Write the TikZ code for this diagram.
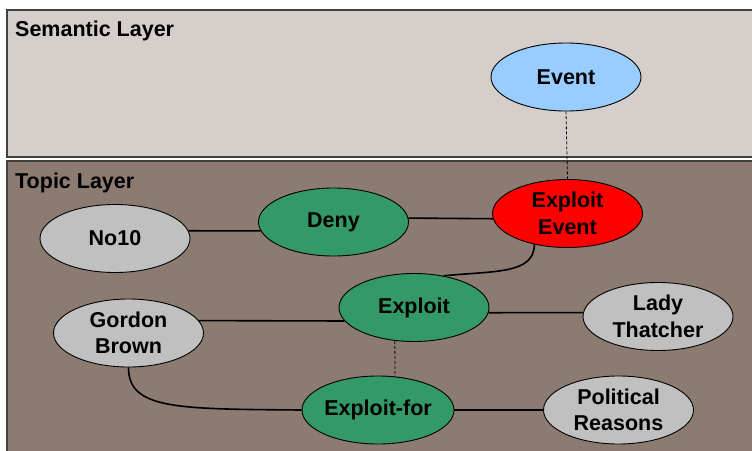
\documentclass[tikz,border=0pt]{standalone}
\usepackage{fontspec}
\setmainfont{Liberation Sans}
\usetikzlibrary{shapes.geometric}
\definecolor{semfill}{HTML}{D6CECB}
\definecolor{topfill}{HTML}{8C7B71}
\definecolor{layerline}{HTML}{404040}
\definecolor{evblue}{HTML}{99CCFF}
\definecolor{exred}{HTML}{FF0000}
\definecolor{exgreen}{HTML}{339966}
\definecolor{exgray}{HTML}{C0C0C0}
\tikzset{
  layer/.style={draw=layerline, line width=1.3pt},
  layerlabel/.style={anchor=base west, inner sep=0pt, font=\fontsize{21.5}{24}\selectfont\bfseries},
  ell/.style={ellipse, draw=black, line width=0.9pt, minimum width=150pt, minimum height=68pt,
    inner sep=0pt, align=center, font=\fontsize{21.5}{26.5}\selectfont\bfseries},
  conn/.style={draw=black, line width=1.6pt},
  dashconn/.style={draw=black, line width=0.8pt, dash pattern=on 3pt off 2pt},
}
\begin{document}
\begin{tikzpicture}[x=1pt, y=-1pt]
\useasboundingbox (0,0) rectangle (752,450);
\fill[white] (0,0) rectangle (752,450);
\filldraw[layer, fill=semfill] (7,10) rectangle (770,157);
\filldraw[layer, fill=topfill] (7,161) rectangle (770,470);
\node[layerlabel] (semlbl) at (15,36) {Semantic Layer};
\node[layerlabel] (toplbl) at (15,188) {Topic Layer};

\node[ell, fill=evblue] (ev) at (566,77) {Event};
\node[ell, fill=exred] (ee) at (567.5,213.5) {Exploit\\Event};
\node[ell, fill=exgreen] (deny) at (333.5,222) {Deny};
\node[ell, fill=exgray] (no10) at (115,238.5) {No10};
\node[ell, fill=exgreen] (ex) at (414,307.5) {Exploit};
\node[ell, fill=exgray] (gb) at (128.5,333) {Gordon\\Brown};
\node[ell, fill=exgray] (lt) at (658,316.5) {Lady\\Thatcher};
\node[ell, fill=exgreen] (ef) at (378,410) {Exploit-for};
\node[ell, fill=exgray] (pr) at (618.5,410) {Political\\Reasons};

\draw[dashconn] (ev.south) -- (ee.north);
\draw[dashconn] (ex.240) -- (ef.63);
\draw[conn] (no10.6) -- (deny.187);
\draw[conn] (deny.3) -- (ee.184);
\draw[conn] (gb.10) -- (ex.191);
\draw[conn] (ex.356) -- (lt.177);
\draw[conn] (ef.east) -- (pr.west);
\draw[conn] (ee.223) .. controls +(0,30) and +(50,-5) .. (ex.47);
\draw[conn] (gb.south) .. controls +(0,42) and +(-125,-1) .. (ef.west);
\end{tikzpicture}
\end{document}
